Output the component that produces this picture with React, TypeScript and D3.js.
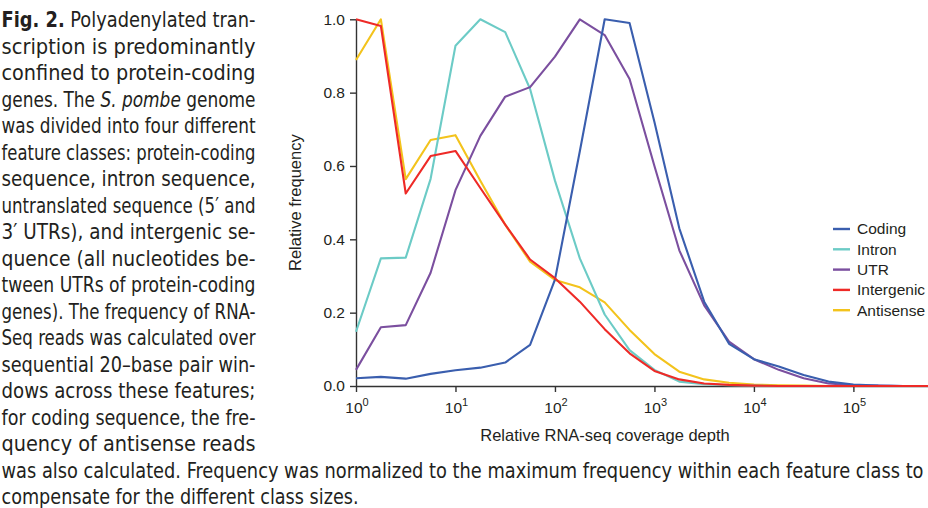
import React, { useEffect, useRef } from 'react';
import * as d3 from 'd3';

const W = 928;
const H = 508;

// log10 of the window coverage depth for each bin (quarter-decade bins)
const depthExponents = [0, 0.25, 0.5, 0.75, 1, 1.25, 1.5, 1.75, 2, 2.25, 2.5, 2.75, 3, 3.25, 3.5, 3.75, 4, 4.25, 4.5, 4.75, 5, 5.25, 5.5, 5.75];

const coding = [0.021, 0.025, 0.02, 0.033, 0.043, 0.05, 0.064, 0.112, 0.29, 0.64, 1.0, 0.99, 0.72, 0.43, 0.23, 0.115, 0.073, 0.053, 0.03, 0.012, 0.004, 0.001, 0, 0];
const intron = [0.148, 0.348, 0.35, 0.565, 0.928, 1.0, 0.965, 0.81, 0.56, 0.348, 0.195, 0.098, 0.044, 0.012, 0.005, 0.002, 0.001, 0, 0, 0, 0, 0, 0, 0];
const utr = [0.044, 0.16, 0.166, 0.309, 0.534, 0.682, 0.789, 0.815, 0.898, 1.0, 0.957, 0.837, 0.6, 0.37, 0.22, 0.121, 0.073, 0.044, 0.021, 0.007, 0.002, 0.001, 0, 0];
const intergenic = [1.0, 0.982, 0.525, 0.627, 0.641, 0.54, 0.44, 0.345, 0.294, 0.23, 0.155, 0.089, 0.041, 0.018, 0.007, 0.003, 0.001, 0, 0, 0, 0, 0, 0, 0];
const antisense = [0.889, 1.0, 0.564, 0.671, 0.684, 0.56, 0.44, 0.339, 0.289, 0.269, 0.228, 0.153, 0.087, 0.039, 0.018, 0.009, 0.004, 0.002, 0.001, 0, 0, 0, 0, 0];

const seriesNames = ['Coding', 'Intron', 'UTR', 'Intergenic', 'Antisense'];
const seriesValues = [coding, intron, utr, intergenic, antisense];
const seriesColors = ['#3a5eae', '#6ccbc6', '#7b4f9f', '#ee2a27', '#f3c31c'];
// drawing order, bottom to top
const drawOrder = [4, 1, 2, 0, 3];

const yTicks = [0, 0.2, 0.4, 0.6, 0.8, 1.0];
const xTickExponents = [0, 1, 2, 3, 4, 5];

const yTitle = 'Relative frequency';
const xTitle = 'Relative RNA-seq coverage depth';

// caption: **bold**, *italic*
const captionColumn = [
  '**Fig. 2.** Polyadenylated tran-',
  'scription is predominantly',
  'confined to protein-coding',
  'genes. The *S. pombe* genome',
  'was divided into four different',
  'feature classes: protein-coding',
  'sequence, intron sequence,',
  'untranslated sequence (5\u2032 and',
  '3\u2032 UTRs), and intergenic se-',
  'quence (all nucleotides be-',
  'tween UTRs of protein-coding',
  'genes). The frequency of RNA-',
  'Seq reads was calculated over',
  'sequential 20\u2013base pair win-',
  'dows across these features;',
  'for coding sequence, the fre-',
  'quency of antisense reads',
];
const captionWide = [
  'was also calculated. Frequency was normalized to the maximum frequency within each feature class to',
  'compensate for the different class sizes.',
];

const chartFont = "'Liberation Sans', Arial, Helvetica, sans-serif";
const captionFont = "'Liberation Sans Narrow', 'DejaVu Sans Condensed', 'Noto Sans', sans-serif";

const parseSegments = (line: string) =>
  line.split(/(\*\*[^*]+\*\*|\*[^*]+\*)/).filter(Boolean).map((s) => {
    if (s.startsWith('**')) return { t: s.slice(2, -2), b: true, i: false };
    if (s.startsWith('*')) return { t: s.slice(1, -1), b: false, i: true };
    return { t: s, b: false, i: false };
  });

const App = () => {
  const svgRef = useRef<SVGSVGElement | null>(null);

  const left = 356, right = 928, top = 19.3, bottom = 386;

  useEffect(() => {
    const svg = d3.select(svgRef.current);
    const g = svg.select<SVGGElement>('g.chart');
    g.selectAll('*').remove();

    const x = d3.scaleLog().domain([1, Math.pow(10, 5.75)]).range([left, right]);
    const y = d3.scaleLinear().domain([0, 1]).range([bottom, top]);

    // y axis
    const yAxis = g.append('g').attr('transform', `translate(${left},0)`)
      .call(d3.axisLeft(y).tickValues(yTicks).tickFormat(d3.format('.1f')).tickSize(6).tickSizeOuter(0).tickPadding(5));
    yAxis.select('.domain').attr('stroke', '#333').attr('stroke-width', 1.4);
    yAxis.selectAll('.tick line').attr('stroke', '#333').attr('stroke-width', 1.4);
    yAxis.selectAll('.tick text').attr('font-family', chartFont).attr('font-size', 15.5).attr('fill', '#231f20');

    // x axis, labels drawn as 10 with superscript exponent
    const xAxis = g.append('g').attr('transform', `translate(0,${bottom})`)
      .call(d3.axisBottom(x).tickValues(xTickExponents.map((e) => Math.pow(10, e))).tickFormat(() => '').tickSize(6).tickSizeOuter(0));
    xAxis.select('.domain').attr('stroke', '#333').attr('stroke-width', 1.4);
    xAxis.selectAll('.tick line').attr('stroke', '#333').attr('stroke-width', 1.4);
    xAxis.selectAll('.tick text').remove();
    xTickExponents.forEach((e) => {
      const t = xAxis.append('text')
        .attr('x', x(Math.pow(10, e)) + 1)
        .attr('y', 27)
        .attr('text-anchor', 'middle')
        .attr('font-family', chartFont)
        .attr('font-size', 15.5)
        .attr('fill', '#231f20');
      t.append('tspan').text('10');
      t.append('tspan').attr('dy', -7).attr('font-size', 11).text(String(e));
    });

    // titles
    g.append('text')
      .attr('transform', `translate(301,${(top + bottom) / 2}) rotate(-90)`)
      .attr('text-anchor', 'middle')
      .attr('font-family', chartFont)
      .attr('font-size', 16.5)
      .attr('fill', '#231f20')
      .text(yTitle);
    g.append('text')
      .attr('x', 605)
      .attr('y', 441)
      .attr('text-anchor', 'middle')
      .attr('font-family', chartFont)
      .attr('font-size', 16.5)
      .attr('fill', '#231f20')
      .text(xTitle);

    // series lines
    const line = d3.line<number>()
      .x((_, i) => x(Math.pow(10, depthExponents[i])))
      .y((d) => y(d));
    drawOrder.forEach((k) => {
      g.append('path')
        .datum(seriesValues[k])
        .attr('d', line)
        .attr('fill', 'none')
        .attr('stroke', seriesColors[k])
        .attr('stroke-width', 2.1)
        .attr('stroke-linejoin', 'round');
    });

    // legend
    const legend = g.append('g').attr('transform', 'translate(833,229)');
    seriesNames.forEach((name, k) => {
      const row = legend.append('g').attr('transform', `translate(0,${k * 20.3})`);
      row.append('line').attr('x1', 0).attr('x2', 17).attr('stroke', seriesColors[k]).attr('stroke-width', 2.4);
      row.append('text')
        .attr('x', 24)
        .attr('dy', '0.35em')
        .attr('font-family', chartFont)
        .attr('font-size', 15.5)
        .attr('fill', '#231f20')
        .text(name);
    });

    // justify caption lines to their column width
    svg.selectAll<SVGTextElement, unknown>('text.cap').each(function () {
      const el = this;
      const target = +(el.getAttribute('data-w') || 0);
      const justify = el.getAttribute('data-j') === '1';
      el.removeAttribute('textLength');
      el.removeAttribute('lengthAdjust');
      el.style.wordSpacing = '0px';
      const natural = el.getComputedTextLength();
      const spaces = ((el.textContent || '').match(/ /g) || []).length;
      if (natural > target) {
        el.setAttribute('textLength', String(target));
        el.setAttribute('lengthAdjust', 'spacingAndGlyphs');
      } else if (justify && spaces > 0) {
        el.style.wordSpacing = `${(target - natural) / spaces}px`;
      }
    });
  }, []);

  const lineGap = 26.5;
  const firstBaseline = 27;
  const allLines = [...captionColumn, ...captionWide];

  return (
    <svg
      ref={svgRef}
      width={W}
      height={H}
      viewBox={`0 0 ${W} ${H}`}
      style={{ position: 'absolute', left: 0, top: 0, background: '#fff' }}
    >
      <rect width={W} height={H} fill="#fff" />
      <g className="caption" fontFamily={captionFont} fontSize={22} fill="#231f20">
        {allLines.map((ln, n) => {
          const wide = n >= captionColumn.length;
          const last = n === allLines.length - 1;
          const width = last ? 357 : wide ? 922 : 254;
          return (
            <text
              key={n}
              className="cap"
              x={1.5}
              y={firstBaseline + n * lineGap}
              data-w={width}
              data-j={last ? '0' : '1'}
              style={{ whiteSpace: 'pre' }}
            >
              {parseSegments(ln).map((s, j) => (
                <tspan key={j} fontWeight={s.b ? 'bold' : undefined} fontStyle={s.i ? 'italic' : undefined}>
                  {s.t}
                </tspan>
              ))}
            </text>
          );
        })}
      </g>
      <g className="chart" />
    </svg>
  );
};

export default App;
